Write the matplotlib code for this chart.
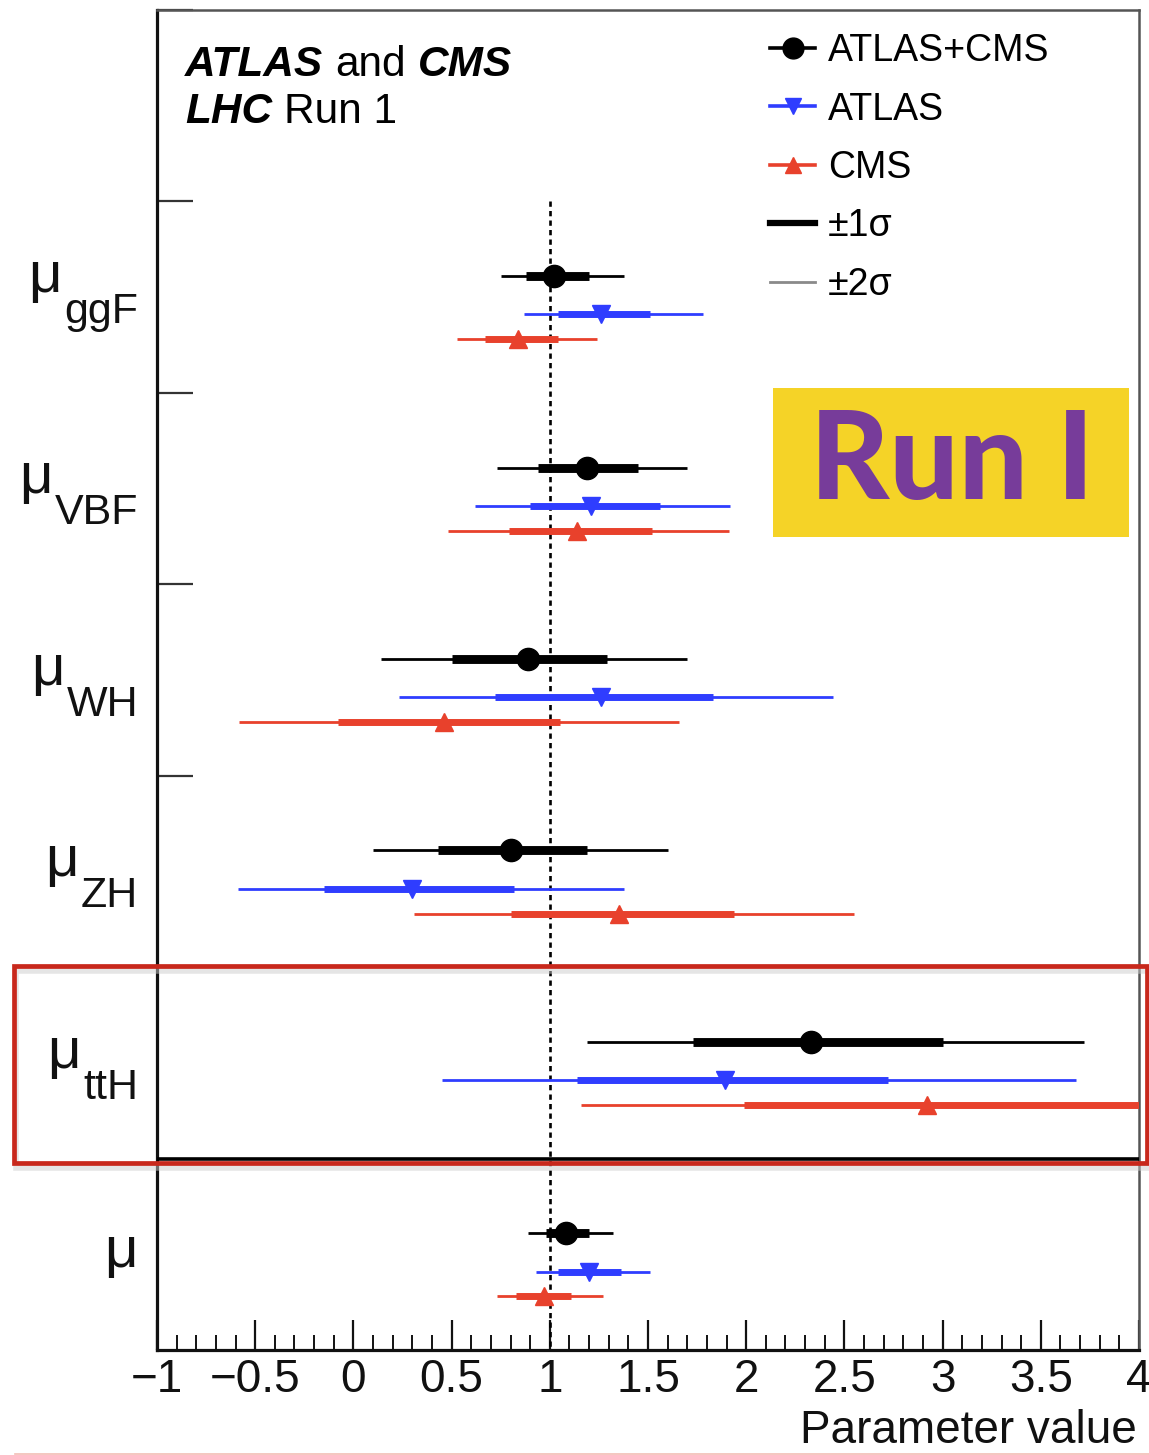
import matplotlib
matplotlib.use("Agg")
import matplotlib.pyplot as plt
from matplotlib.lines import Line2D
from matplotlib.patches import Rectangle
from matplotlib.ticker import MultipleLocator

# ---------------- data ----------------
categories = ["ggF", "VBF", "WH", "ZH", "ttH", ""]

comb_val = [1.02, 1.19, 0.89, 0.80, 2.33, 1.08]
comb_1lo = [0.88, 0.94, 0.50, 0.43, 1.73, 0.98]
comb_1hi = [1.20, 1.45, 1.29, 1.19, 3.00, 1.20]
comb_2lo = [0.75, 0.73, 0.14, 0.10, 1.19, 0.89]
comb_2hi = [1.38, 1.70, 1.70, 1.60, 3.72, 1.32]

atlas_val = [1.26, 1.21, 1.26, 0.30, 1.89, 1.20]
atlas_1lo = [1.04, 0.90, 0.72, -0.15, 1.14, 1.04]
atlas_1hi = [1.51, 1.56, 1.83, 0.82, 2.72, 1.36]
atlas_2lo = [0.87, 0.62, 0.23, -0.59, 0.45, 0.93]
atlas_2hi = [1.78, 1.92, 2.44, 1.38, 3.68, 1.51]

cms_val = [0.84, 1.14, 0.46, 1.35, 2.92, 0.97]
cms_1lo = [0.67, 0.79, -0.08, 0.80, 1.99, 0.83]
cms_1hi = [1.04, 1.52, 1.05, 1.94, 4.10, 1.11]
cms_2lo = [0.53, 0.48, -0.58, 0.31, 1.16, 0.73]
cms_2hi = [1.24, 1.91, 1.66, 2.55, 5.00, 1.27]

series_labels = ["ATLAS+CMS", "ATLAS", "CMS"]
x_ticks = [-1, -0.5, 0, 0.5, 1, 1.5, 2, 2.5, 3, 3.5, 4]
x_ticklabels = ["\u22121", "\u22120.5", "0", "0.5", "1", "1.5", "2", "2.5", "3", "3.5", "4"]
sm_value = 1.0

# ---------------- style ----------------
W, H = 1149, 1455
plt.rcParams["font.family"] = ["Liberation Sans", "DejaVu Sans"]
plt.rcParams["axes.unicode_minus"] = True

BLACK = "#000000"
BLUE = "#2f3dff"
RED = "#e8412c"

fig = plt.figure(figsize=(W / 100, H / 100), dpi=100)
fig.patch.set_facecolor("white")
ax = fig.add_axes([157 / W, 1 - 1350 / H, (1139 - 157) / W, (1350 - 10) / H])
ax.set_xlim(-1, 4)
ax.set_ylim(7, 0)

# spines
for s in ("left", "bottom"):
    ax.spines[s].set_linewidth(2.3)
    ax.spines[s].set_color("#111111")
for s in ("top", "right"):
    ax.spines[s].set_linewidth(1.8)
    ax.spines[s].set_color("#555555")

# x ticks
ax.set_xticks(x_ticks)
ax.set_xticklabels(x_ticklabels)
ax.xaxis.set_minor_locator(MultipleLocator(0.1))
ax.tick_params(axis="x", which="major", direction="in", length=21.6, width=1.6,
               labelsize=33, pad=6, colors="#111111")
ax.tick_params(axis="x", which="minor", direction="in", length=10.8, width=1.4,
               colors="#111111")
# y ticks (category separators)
ax.set_yticks([0, 1, 2, 3, 4, 5])
ax.set_yticklabels([])
ax.tick_params(axis="y", which="major", direction="in", length=26, width=1.6,
               colors="#333333")
ax.axhline(6, color="black", lw=2.6, zorder=3)

# SM line
ax.vlines(sm_value, 1, 7, colors="black", linestyles=(0, (2.0, 1.6)), lw=1.9, zorder=2)

# data
offsets = [0.39, 0.59, 0.72]
series = [
    (comb_val, comb_1lo, comb_1hi, comb_2lo, comb_2hi, BLACK, "o", 16, 6.4, 2.0),
    (atlas_val, atlas_1lo, atlas_1hi, atlas_2lo, atlas_2hi, BLUE, "v", 13, 5.0, 2.0),
    (cms_val, cms_1lo, cms_1hi, cms_2lo, cms_2hi, RED, "^", 13, 5.0, 2.0),
]
for k, (val, lo1, hi1, lo2, hi2, col, mk, ms, lw1, lw2) in enumerate(series):
    ys = [i + 1 + offsets[k] for i in range(len(categories))]
    ax.hlines(ys, lo2, hi2, colors=col, lw=lw2, zorder=4)
    ax.hlines(ys, lo1, hi1, colors=col, lw=lw1, zorder=5)
    ax.plot(val, ys, ls="none", marker=mk, ms=ms, color=col, zorder=6, clip_on=True)

# y-axis category labels: mu with subscripts
label_base = {"ggF": 0.635}
for i, cat in enumerate(categories):
    if cat:
        yb = i + 1 + label_base.get(cat, 0.687)
        sub = ax.annotate(cat, xy=(138, yb), xycoords=("figure pixels", "data"),
                          ha="right", va="baseline", fontsize=31, color="#111111",
                          annotation_clip=False)
        ax.annotate("\u03bc", xy=(0, 0), xycoords=sub, xytext=(-2, 40),
                    textcoords="offset pixels", ha="right", va="baseline",
                    fontsize=42, color="#111111", annotation_clip=False)
    else:
        yb = i + 1 + 0.564
        ax.annotate("\u03bc", xy=(138, yb), xycoords=("figure pixels", "data"),
                    ha="right", va="baseline", fontsize=42, color="#111111",
                    annotation_clip=False)

# x label
fig.text(1137 / W, 1 - 1443 / H, "Parameter value", ha="right", va="baseline",
         fontsize=33, color="#111111")

# top-left experiment text
t1 = ax.annotate("ATLAS", xy=(185, H - 76), xycoords="figure pixels", ha="left",
                 va="baseline", fontsize=30.5, fontweight="bold", fontstyle="italic")
t2 = ax.annotate("and", xy=(1, 0), xycoords=t1, xytext=(12, 0), textcoords="offset pixels",
                 ha="left", va="bottom", fontsize=30.5)
ax.annotate("CMS", xy=(1, 0), xycoords=t2, xytext=(12, 0), textcoords="offset pixels",
            ha="left", va="bottom", fontsize=30.5, fontweight="bold", fontstyle="italic")
t4 = ax.annotate("LHC", xy=(185, H - 123), xycoords="figure pixels", ha="left",
                 va="baseline", fontsize=30.5, fontweight="bold", fontstyle="italic")
ax.annotate("Run 1", xy=(1, 0), xycoords=t4, xytext=(12, 0), textcoords="offset pixels",
            ha="left", va="bottom", fontsize=30.5)

# legend
handles = [
    Line2D([], [], color=BLACK, lw=2.6, marker="o", ms=15),
    Line2D([], [], color=BLUE, lw=2.6, marker="v", ms=12),
    Line2D([], [], color=RED, lw=2.6, marker="^", ms=12),
    Line2D([], [], color=BLACK, lw=4.5),
    Line2D([], [], color="#8a8a8a", lw=2.0),
]
leg_labels = series_labels + ["\u00b11\u03c3", "\u00b12\u03c3"]
ax.legend(handles, leg_labels, loc="upper left", bbox_to_anchor=(770 / W, 1 - 33 / H),
          bbox_transform=fig.transFigure, frameon=False, fontsize=27, numpoints=1,
          handlelength=1.2, handletextpad=0.35, labelspacing=0.6,
          borderpad=0, borderaxespad=0)

# "Run I" badge
fig.add_artist(Rectangle((773 / W, 1 - 537 / H), (1129 - 773) / W, (537 - 388) / H,
                         transform=fig.transFigure, facecolor="#f5d327", edgecolor="none",
                         zorder=10))
fig.text(952 / W, 1 - 464 / H, "Run I", ha="center", va="center", fontsize=88,
         fontweight=900, family=["Lato", "DejaVu Sans"],
         color="#773c9a", zorder=11)

# red highlight box around ttH
fig.add_artist(Rectangle((16 / W, 1 - 1168 / H), (1149 - 16) / W, (1168 - 971) / H,
                         transform=fig.transFigure, fill=False, edgecolor="#cccccc",
                         lw=4, alpha=0.5, zorder=9))
fig.add_artist(Rectangle((14 / W, 1 - 1163 / H), (1147 - 14) / W, (1163 - 966) / H,
                         transform=fig.transFigure, fill=False, edgecolor="#c8281c",
                         lw=3.4, zorder=10))
fig.add_artist(Line2D([15 / W, 1], [1.5 / H, 1.5 / H], transform=fig.transFigure,
                      color="#f2bdb5", lw=1.2))

fig.savefig("out.png", dpi=100)
